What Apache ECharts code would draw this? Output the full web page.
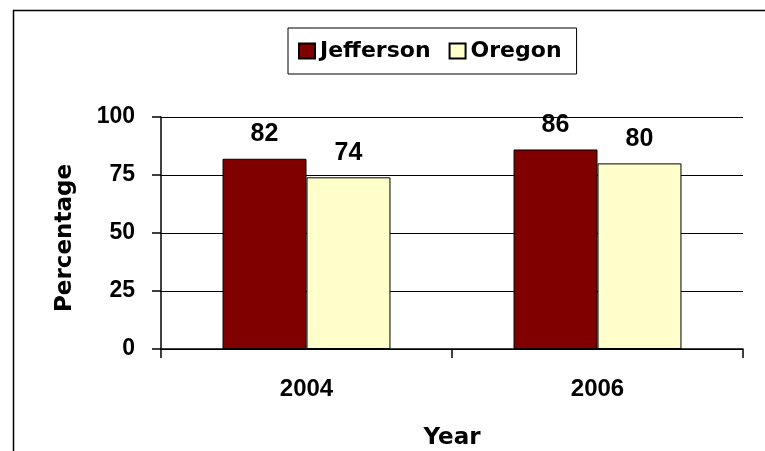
<!DOCTYPE html>
<html>
<head>
<meta charset="utf-8">
<script src="https://cdn.jsdelivr.net/npm/echarts@6/dist/echarts.min.js"></script>
<style>
html,body{margin:0;padding:0;background:#fff;}
#chart{width:765px;height:451px;}
</style>
</head>
<body>
<div id="chart"></div>
<script>
var categories = ['2004', '2006'];
var jefferson = [82, 86];
var oregon = [74, 80];
var seriesNames = ['Jefferson', 'Oregon'];
var yTicks = [0, 25, 50, 75, 100];

var chart = echarts.init(document.getElementById('chart'), null, {renderer: 'canvas'});
var lab = "'Liberation Sans', Arial, sans-serif";
var wide = "'DejaVu Sans', Verdana, sans-serif";
chart.setOption({
  animation: false,
  backgroundColor: '#ffffff',
  graphic: [{
    type: 'rect', left: 11, top: 8,
    shape: {width: 800, height: 500},
    style: {fill: 'none', stroke: '#000', lineWidth: 1.5},
    silent: true
  }],
  legend: {
    data: seriesNames,
    left: 288, top: 28,
    orient: 'horizontal',
    backgroundColor: '#fff',
    borderColor: '#000', borderWidth: 1,
    padding: [12, 15, 12, 10],
    itemWidth: 16, itemHeight: 15, itemGap: 18,
    icon: 'rect',
    textStyle: {fontFamily: wide, fontWeight: 'bold', fontSize: 22, color: '#000'}
  },
  grid: {left: 161, right: 22, top: 117, bottom: 102, containLabel: false, outerBoundsMode: 'none'},
  xAxis: {
    type: 'category',
    data: categories,
    name: 'Year',
    nameLocation: 'middle',
    nameGap: 78,
    nameTextStyle: {fontFamily: wide, fontWeight: 'bold', fontSize: 23, color: '#000'},
    axisLine: {show: true, lineStyle: {color: '#000', width: 1.5}},
    axisTick: {show: true, length: 9, alignWithLabel: false, lineStyle: {color: '#000', width: 1.5}},
    axisLabel: {margin: 28, fontFamily: lab, fontWeight: 'bold', fontSize: 24, color: '#000'},
    splitLine: {show: false}
  },
  yAxis: {
    type: 'value',
    min: yTicks[0], max: yTicks[yTicks.length - 1], interval: 25,
    name: 'Percentage',
    nameLocation: 'middle',
    nameRotate: 90,
    nameGap: 84,
    nameTextStyle: {fontFamily: wide, fontWeight: 'bold', fontSize: 23, color: '#000', padding: [0, 10, 0, 0]},
    axisLine: {show: true, lineStyle: {color: '#000', width: 1.5}},
    axisTick: {show: true, length: 9, lineStyle: {color: '#000', width: 1.5}},
    axisLabel: {margin: 26, fontFamily: lab, fontWeight: 'bold', fontSize: 23, color: '#000'},
    splitLine: {show: true, lineStyle: {color: '#000', width: 1.2}}
  },
  series: [{
    name: seriesNames[0], type: 'bar', data: jefferson,
    barGap: '0%', barCategoryGap: '42.3%',
    itemStyle: {color: '#800000', borderColor: '#000', borderWidth: 1},
    label: {show: true, position: 'top', distance: 12, fontFamily: lab, fontWeight: 'bold', fontSize: 25, color: '#000'}
  }, {
    name: seriesNames[1], type: 'bar', data: oregon,
    barGap: '0%', barCategoryGap: '42.3%',
    itemStyle: {color: '#FFFFCC', borderColor: '#000', borderWidth: 1},
    label: {show: true, position: 'top', distance: 12, fontFamily: lab, fontWeight: 'bold', fontSize: 25, color: '#000'}
  }]
});
</script>
</body>
</html>
